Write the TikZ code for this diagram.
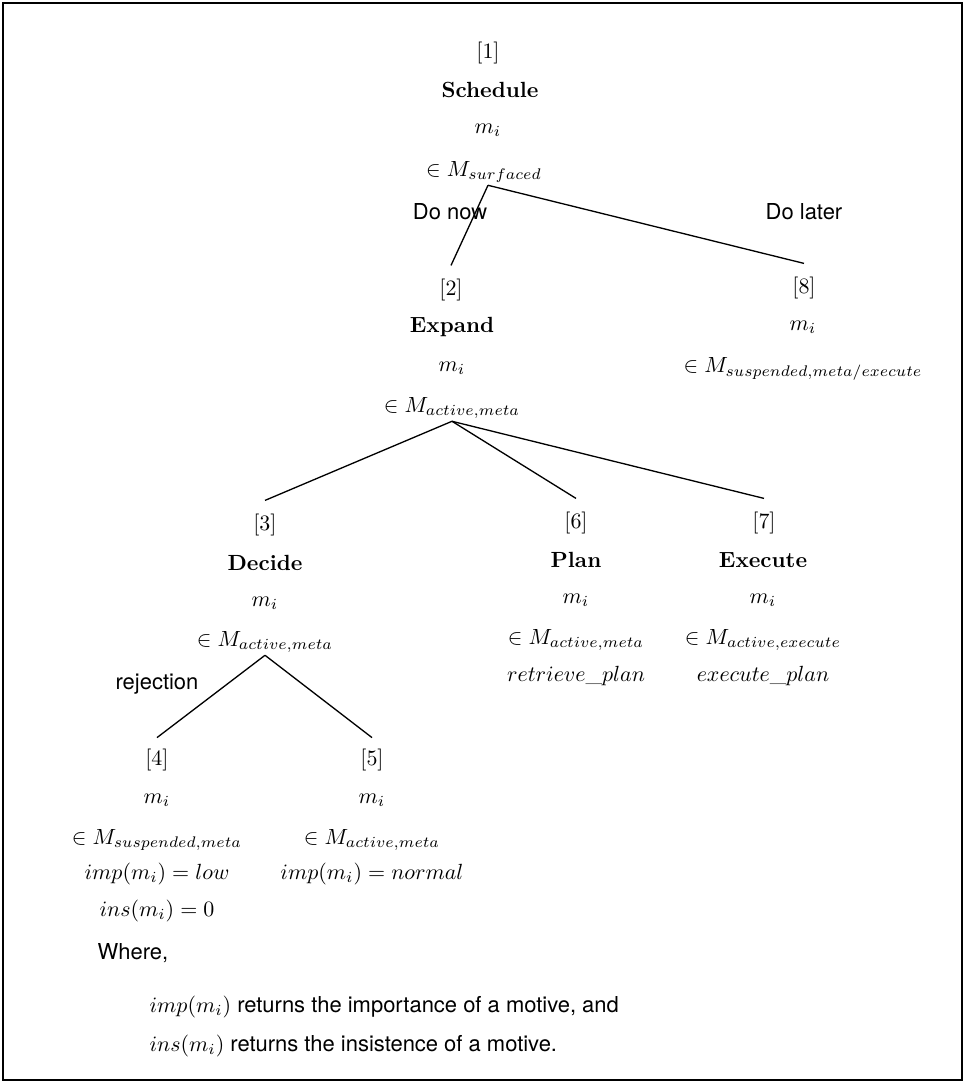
\documentclass[tikz,border=0pt]{standalone}
\usepackage{fontspec}
\setsansfont{TeX Gyre Heros}
\begin{document}
\begin{tikzpicture}[x=0.016cm,y=-0.016cm,
  every node/.style={inner sep=1pt},
  lbl/.style={font=\sffamily},
  hd/.style={font=\bfseries},
  br/.style={line width=0.6pt}]
\useasboundingbox (0,0) rectangle (963,1081);
\draw[line width=0.9pt] (3,3) rectangle (962,1080);
% [1] schedule
\node (n1) at (488,53) {$[1]$};
\node[hd] (h1) at (490,90) {Schedule};
\node (m1) at (488,130) {$m_i$};
\node (s1) at (484,172) {$\in M_{surfaced}$};
\node[lbl] (l1) at (450,212) {Do now};
\node[lbl] (l2) at (804,212) {Do later};
% [2] expand
\node (n2) at (451,290) {$[2]$};
\node[hd] (h2) at (452,327) {Expand};
\node (m2) at (452,368) {$m_i$};
\node (s2) at (452,408) {$\in M_{active,meta}$};
% [8] suspended
\node (n8) at (804,288) {$[8]$};
\node (m8) at (803,327) {$m_i$};
\node (s8) at (803,369) {$\in M_{suspended,meta/execute}$};
\draw[br] (s1.south -| n1) -- ([yshift=5pt]n2.north);
\draw[br] (s1.south -| n1) -- ([yshift=5pt]n8.north);
% [3] decide
\node (n3) at (265,525) {$[3]$};
\node[hd] (h3) at (265,563) {Decide};
\node (m3) at (265,603) {$m_i$};
\node (s3) at (265,642) {$\in M_{active,meta}$};
% [6] plan
\node (n6) at (576,523) {$[6]$};
\node[hd] (h6) at (576,560) {Plan};
\node (m6) at (576,600) {$m_i$};
\node (s6) at (576,640) {$\in M_{active,meta}$};
\node (p6) at (576,676) {$retrieve\_plan$};
% [7] execute
\node (n7) at (764,523) {$[7]$};
\node[hd] (h7) at (763,560) {Execute};
\node (m7) at (763,600) {$m_i$};
\node (s7) at (763,640) {$\in M_{active,execute}$};
\node (p7) at (763,676) {$execute\_plan$};
\draw[br] (s2.south) -- ([yshift=5pt]n3.north);
\draw[br] (s2.south) -- ([yshift=5pt]n6.north);
\draw[br] (s2.south) -- ([yshift=5pt]n7.north);
% [4] and [5]
\node[lbl] (l3) at (157,684) {rejection};
\node (n4) at (157,760) {$[4]$};
\node (m4) at (157,800) {$m_i$};
\node (s4) at (157,840) {$\in M_{suspended,meta}$};
\node (i4) at (157,874) {$imp(m_i)=low$};
\node (j4) at (157,911) {$ins(m_i)=0$};
\node (n5) at (372,760) {$[5]$};
\node (m5) at (372,800) {$m_i$};
\node (s5) at (372,840) {$\in M_{active,meta}$};
\node (i5) at (372,874) {$imp(m_i)=normal$};
\draw[br] (s3.south) -- ([yshift=4pt]n4.north);
\draw[br] (s3.south) -- ([yshift=4pt]n5.north);
% key
\node[lbl,anchor=west] (wh) at (95,953) {Where,};
\node[lbl,anchor=west] (k1) at (147,1007) {$imp(m_i)$ returns the importance of a motive, and};
\node[lbl,anchor=west] (k2) at (147,1046) {$ins(m_i)$ returns the insistence of a motive.};
\end{tikzpicture}
\end{document}
